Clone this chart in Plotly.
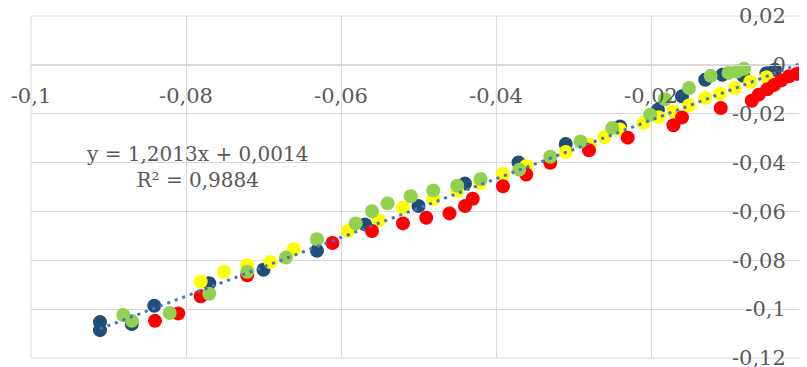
import plotly.graph_objects as go

# ---- data ----
blue_x = [-0.0911, -0.0911, -0.0870, -0.0841, -0.0770, -0.0700, -0.0631, -0.0569, -0.0500, -0.0440,
          -0.0371, -0.0310, -0.0240, -0.0191, -0.0160, -0.0130, -0.0108, -0.0081, -0.0051, -0.0040]
blue_y = [-0.1053, -0.1086, -0.1061, -0.0986, -0.0894, -0.0839, -0.0761, -0.0653, -0.0578, -0.0486,
          -0.0400, -0.0324, -0.0252, -0.0184, -0.0129, -0.0061, -0.0041, -0.0045, -0.0034, -0.0020]

yellow_x = [-0.0781, -0.0751, -0.0721, -0.0691, -0.0661, -0.0591, -0.0551, -0.0520, -0.0481, -0.0450,
            -0.0421, -0.0391, -0.0361, -0.0310, -0.0279, -0.0260, -0.0240, -0.0210, -0.0190, -0.0171,
            -0.0151, -0.0130, -0.0111, -0.0092, -0.0072, -0.0051]
yellow_y = [-0.0887, -0.0847, -0.0820, -0.0807, -0.0755, -0.0680, -0.0636, -0.0585, -0.0550, -0.0517,
            -0.0484, -0.0447, -0.0414, -0.0357, -0.0327, -0.0296, -0.0265, -0.0238, -0.0214, -0.0191,
            -0.0166, -0.0136, -0.0118, -0.0095, -0.0069, -0.0051]

red_x = [-0.0840, -0.0810, -0.0781, -0.0721, -0.0611, -0.0560, -0.0520, -0.0490, -0.0460, -0.0440,
         -0.0430, -0.0391, -0.0361, -0.0330, -0.0280, -0.0230, -0.0171, -0.0160, -0.0110, -0.0070,
         -0.0061, -0.0050, -0.0041, -0.0032, -0.0022, -0.0012, -0.0004]
red_y = [-0.1048, -0.1018, -0.0947, -0.0861, -0.0729, -0.0680, -0.0649, -0.0626, -0.0608, -0.0578,
         -0.0548, -0.0497, -0.0449, -0.0401, -0.0350, -0.0298, -0.0247, -0.0215, -0.0177, -0.0147,
         -0.0122, -0.0100, -0.0082, -0.0063, -0.0047, -0.0037, -0.0029]

green_x = [-0.0881, -0.0870, -0.0821, -0.0770, -0.0721, -0.0671, -0.0631, -0.0581, -0.0560, -0.0540,
           -0.0510, -0.0481, -0.0450, -0.0420, -0.0370, -0.0330, -0.0291, -0.0250, -0.0201, -0.0182,
           -0.0151, -0.0123, -0.0100, -0.0089, -0.0080]
green_y = [-0.1024, -0.1048, -0.1016, -0.0937, -0.0847, -0.0789, -0.0714, -0.0649, -0.0599, -0.0567,
           -0.0538, -0.0514, -0.0495, -0.0467, -0.0429, -0.0376, -0.0314, -0.0258, -0.0204, -0.0141,
           -0.0095, -0.0045, -0.0033, -0.0027, -0.0016]

trend_slope = 1.2013
trend_intercept = 0.0014
trend_r2 = 0.9884

x_tickvals = [-0.1, -0.08, -0.06, -0.04, -0.02, 0]
x_ticktext = ["-0,1", "-0,08", "-0,06", "-0,04", "-0,02", "0"]
y_tickvals = [0.02, 0, -0.02, -0.04, -0.06, -0.08, -0.1, -0.12]
y_ticktext = ["0,02", "0", "-0,02", "-0,04", "-0,06", "-0,08", "-0,1", "-0,12"]

# ---- styling ----
FONT = "DejaVu Serif"
TXT = "#595959"
GRID = "#D9D9D9"
MSIZE = 14

fig = go.Figure()
series = [
    (blue_x, blue_y, "#1F4E79"),
    (yellow_x, yellow_y, "#FFFF00"),
    (red_x, red_y, "#FF0000"),
    (green_x, green_y, "#92D050"),
]
for xs, ys, col in series:
    fig.add_trace(go.Scatter(x=xs, y=ys, mode="markers",
                             marker=dict(size=MSIZE, color=col, line=dict(width=0)),
                             showlegend=False, hoverinfo="skip", cliponaxis=False))

all_x = blue_x + yellow_x + red_x + green_x
tx = [min(all_x), max(all_x)]
ty = [trend_slope * v + trend_intercept for v in tx]
fig.add_trace(go.Scatter(x=tx, y=ty, mode="lines",
                         line=dict(color="#4472C4", width=3, dash="3px,5px"),
                         showlegend=False, hoverinfo="skip"))

def fmt(v, nd):
    return f"{v:.{nd}f}".replace(".", ",")

eq_text = f"y = {fmt(trend_slope, 4)}x + {fmt(trend_intercept, 4)}<br>R² = {fmt(trend_r2, 4)}"
fig.add_annotation(text=eq_text, xref="paper", yref="paper", x=0.2148, y=0.5585,
                   xanchor="center", yanchor="middle", showarrow=False,
                   font=dict(family=FONT, size=20, color=TXT), align="center")

fig.add_shape(type="rect", xref="paper", yref="paper", x0=0, x1=1, y0=0, y1=1,
              line=dict(color=GRID, width=1), layer="below")

xr = [-0.1, 0]
yr = [-0.12, 0.02]
# the page body adds an 8px offset, so the figure is sized to fit inside the window
fig.update_layout(
    width=799, height=359,
    margin=dict(l=23, r=1, t=8, b=9, autoexpand=False),
    paper_bgcolor="white", plot_bgcolor="white",
    font=dict(family=FONT, size=20, color=TXT),
    xaxis=dict(range=xr, tickvals=x_tickvals, ticktext=x_ticktext,
               showgrid=True, gridcolor=GRID, gridwidth=1, zeroline=False,
               anchor="free", position=(0 - yr[0]) / (yr[1] - yr[0]),
               showline=True, linecolor=GRID, linewidth=1, automargin=False,
               ticks="", ticklabelstandoff=12, ticklabeloverflow="allow",
               tickfont=dict(family=FONT, size=21, color=TXT)),
    yaxis=dict(range=yr, tickvals=y_tickvals, ticktext=y_ticktext,
               showgrid=True, gridcolor=GRID, gridwidth=1, zeroline=False,
               anchor="free", position=1.0, side="left",
               showline=True, linecolor=GRID, linewidth=1, automargin=False,
               ticks="", ticklabelstandoff=16, ticklabeloverflow="allow",
               tickfont=dict(family=FONT, size=21, color=TXT)),
)

fig.write_html("out.html")
